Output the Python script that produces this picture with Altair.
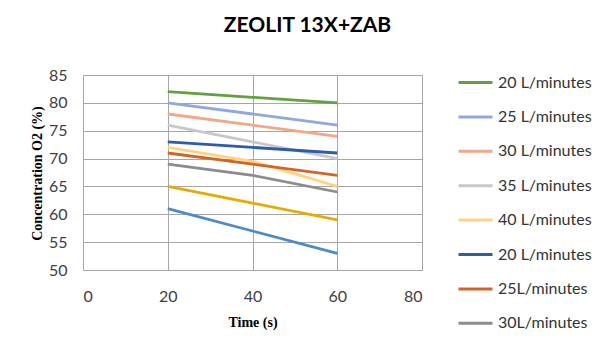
import altair as alt
import pandas as pd

# ---- data ----
times = [20, 40, 60]
series_keys = ["a", "b", "c", "d", "e", "f", "g", "h", "i", "j"]
series_labels = ["20 L/minutes", "25 L/minutes", "30 L/minutes", "35 L/minutes",
                 "40 L/minutes", "20 L/minutes", "25L/minutes", "30L/minutes",
                 "35L/minutes", "40L/minutes"]
s_a = [82, 81, 80]
s_b = [80, 78, 76]
s_c = [78, 76, 74]
s_d = [76, 73, 70]
s_e = [72, 69.5, 65]
s_f = [73, 72, 71]
s_g = [71, 69, 67]
s_h = [69, 67, 64]
s_i = [65, 62, 59]
s_j = [61, 57, 53]
series_values = [s_a, s_b, s_c, s_d, s_e, s_f, s_g, s_h, s_i, s_j]
colors = ["#62A13F", "#8EA9E0", "#F4A688", "#C8C8C8", "#FFD480",
          "#2E5CAA", "#D2642A", "#8C8C8C", "#E5AC00", "#4C8BC8"]
x_ticks = [0, 20, 40, 60, 80]
y_ticks = [50, 55, 60, 65, 70, 75, 80, 85]

rows = []
for k, (key, vals) in enumerate(zip(series_keys, series_values)):
    for t, v in zip(times, vals):
        rows.append({"series": key, "order": k, "time": t, "conc": v})
df = pd.DataFrame(rows)

label_expr = " : ".join(
    f"datum.value == '{k}' ? '{l}'" for k, l in zip(series_keys, series_labels)
) + " : ''"

chart = alt.Chart(df).mark_line(strokeWidth=2.8).encode(
    x=alt.X("time:Q",
            scale=alt.Scale(domain=[0, 80], nice=False),
            axis=alt.Axis(values=x_ticks, title="Time (s)",
                          titleFont="Liberation Serif", titleFontSize=14,
                          titleFontWeight="bold", titleColor="#000000",
                          titleX=169.5, titleY=52, titleBaseline="middle",
                          labelFont="Lato", labelFontSize=16, labelColor="#404040",
                          labelPadding=18, domain=False, ticks=False,
                          grid=True, gridColor="#a6a6a6", gridWidth=1)),
    y=alt.Y("conc:Q",
            scale=alt.Scale(domain=[50, 85], nice=False, zero=False),
            axis=alt.Axis(values=y_ticks, title="Concentration O2 (%)",
                          titleFont="Liberation Serif", titleFontSize=14,
                          titleFontWeight="bold", titleColor="#000000",
                          titleX=-46, titleY=98, titleAlign="center",
                          titleBaseline="middle",
                          labelFont="Lato", labelFontSize=16, labelColor="#404040",
                          labelPadding=16, domain=False, ticks=False,
                          grid=True, gridColor="#a6a6a6", gridWidth=1)),
    color=alt.Color("series:N",
                    scale=alt.Scale(domain=series_keys, range=colors),
                    legend=alt.Legend(title=None, values=series_keys[:8],
                                      labelExpr=label_expr,
                                      orient="none", legendX=374, legendY=-11,
                                      symbolType="stroke", symbolSize=1156,
                                      symbolStrokeWidth=3, rowPadding=7.4,
                                      labelOffset=4, labelFont="Lato",
                                      labelFontSize=16, labelColor="#333333",
                                      padding=0, labelLimit=200)),
    order="order:Q",
).properties(
    width=339, height=195,
    title=alt.TitleParams("ZEOLIT 13X+ZAB", font="Lato", fontSize=21,
                          fontWeight="bold", color="#000000",
                          anchor="middle", dx=55, offset=28),
    autosize=alt.AutoSizeParams(type="none"),
    padding={"left": 83, "top": 75, "right": 180, "bottom": 79},
).configure_view(
    stroke="#a6a6a6", strokeWidth=1
).configure(background="white")

chart.save("out.html", embed_options={"renderer": "svg", "actions": False})
